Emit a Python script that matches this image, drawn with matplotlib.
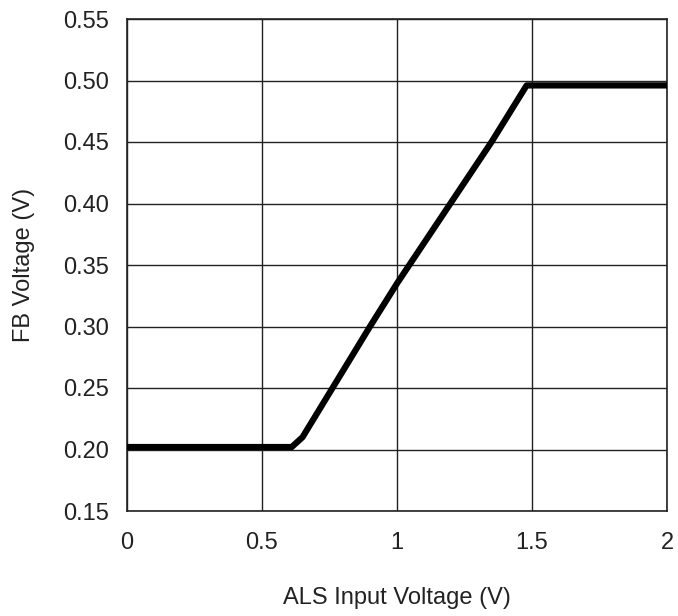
import matplotlib.pyplot as plt

plt.rcParams['font.family'] = ['Liberation Sans', 'DejaVu Sans']

# ALS input voltage (V) vs FB voltage (V)
als_input = [0.0, 0.61, 0.65, 0.90, 1.00, 1.35, 1.48, 2.00]
fb_voltage = [0.202, 0.202, 0.210, 0.300, 0.335, 0.450, 0.496, 0.496]

x_ticks = [0, 0.5, 1, 1.5, 2]
x_tick_labels = ["0", "0.5", "1", "1.5", "2"]
y_ticks = [0.15, 0.20, 0.25, 0.30, 0.35, 0.40, 0.45, 0.50, 0.55]
y_tick_labels = ["%.2f" % v for v in y_ticks]

fig = plt.figure(figsize=(6.78, 6.16), dpi=100)
ax = fig.add_axes([127 / 678, 105 / 616, 540 / 678, 492 / 616])

ax.plot(als_input, fb_voltage, color='black', linewidth=4.5,
        solid_joinstyle='round', solid_capstyle='butt', zorder=3)

ax.set_xlim(0, 2)
ax.set_ylim(0.15, 0.55)
ax.set_xticks(x_ticks)
ax.set_xticklabels(x_tick_labels)
ax.set_yticks(y_ticks)
ax.set_yticklabels(y_tick_labels)
ax.grid(True, color='#222222', linewidth=1.0)
ax.tick_params(length=0, labelsize=17, colors='#222222')
ax.tick_params(axis='x', pad=15)
ax.tick_params(axis='y', pad=13)
for s in ax.spines.values():
    s.set_color('#222222')
    s.set_linewidth(1.2)

ax.set_xlabel("ALS Input Voltage (V)", fontsize=17, color='#222222', labelpad=24)
ax.set_ylabel("FB Voltage (V)", fontsize=17, color='#222222', labelpad=20)

fig.savefig("out.png", dpi=100)
